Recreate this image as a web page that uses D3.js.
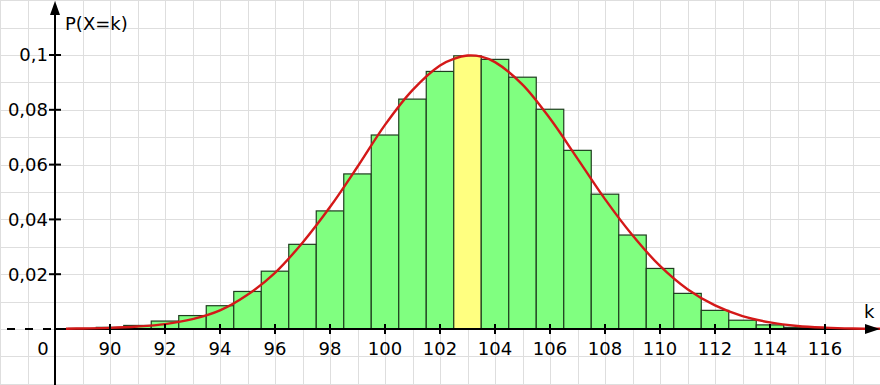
<!DOCTYPE html>
<html>
<head>
<meta charset="utf-8">
<script src="https://cdn.jsdelivr.net/npm/d3@7"></script>
<style>
  body { margin: 0; background: #fff; }
  svg { display: block; font-family: "DejaVu Sans", Verdana, sans-serif; }
</style>
</head>
<body>
<svg width="880" height="385"></svg>
<script>
// bar heights P(X=k)
var ks = [89, 90, 91, 92, 93, 94, 95, 96, 97, 98, 99, 100, 101, 102,
          103, 104, 105, 106, 107, 108, 109, 110, 111, 112, 113, 114, 115, 116];
var probs = [0.0002, 0.0006, 0.0013, 0.0029, 0.0049, 0.0085, 0.0137, 0.0211, 0.0309, 0.0431,
             0.0566, 0.0708, 0.0839, 0.0940, 0.0997, 0.0984, 0.0919, 0.0802, 0.0652, 0.0492,
             0.0343, 0.0221, 0.0130, 0.0068, 0.0032, 0.0015, 0.0006, 0.0002];
var highlightK = 103;

// red approximation curve
var curveK = [88.4, 89, 90, 91, 92, 93, 94, 95, 96, 97, 98, 99, 100, 101, 102, 102.5, 103, 103.5,
              104, 105, 106, 107, 108, 109, 110, 111, 112, 113, 114, 115, 116, 117, 118];
var curveP = [0.0001, 0.0002, 0.0004, 0.0009, 0.0018, 0.0036, 0.0068, 0.0125, 0.0205, 0.0315,
              0.0445, 0.0592, 0.0745, 0.0872, 0.0962, 0.0986, 0.0998, 0.0994, 0.0974, 0.0892,
              0.0768, 0.0622, 0.0474, 0.0342, 0.0230, 0.0145, 0.0086, 0.0047, 0.0024, 0.0011,
              0.0005, 0.0002, 0.0001];

var xTicks = [90, 92, 94, 96, 98, 100, 102, 104, 106, 108, 110, 112, 114, 116];
var yTicks = [0.02, 0.04, 0.06, 0.08, 0.1];
var yTickLabels = ["0,02", "0,04", "0,06", "0,08", "0,1"];

var svg = d3.select("svg"),
    width = +svg.attr("width"),
    height = +svg.attr("height");

var fontSize = 18;

var x = d3.scaleLinear().domain([86, 118]).range([0, 880]);
var y = d3.scaleLinear().domain([0, 0.1]).range([329, 55]);

var axisX = x(88);   // where the vertical axis sits
var axisY = y(0);

// grid
var grid = svg.append("g").attr("stroke", "#dedede").attr("stroke-width", 1);
grid.selectAll("line.v")
    .data(d3.range(86, 119))
    .enter().append("line")
    .attr("class", "v")
    .attr("x1", function(d) { return Math.round(x(d)) + 0.5; })
    .attr("x2", function(d) { return Math.round(x(d)) + 0.5; })
    .attr("y1", 0).attr("y2", height);
grid.selectAll("line.h")
    .data(d3.range(-2, 13))
    .enter().append("line")
    .attr("class", "h")
    .attr("y1", function(d) { return Math.round(y(d / 100)) + 0.5; })
    .attr("y2", function(d) { return Math.round(y(d / 100)) + 0.5; })
    .attr("x1", 0).attr("x2", width);

// bars
svg.append("g")
    .selectAll("rect")
    .data(ks)
    .enter().append("rect")
    .attr("x", function(d) { return x(d - 0.5); })
    .attr("width", function(d) { return x(d + 0.5) - x(d - 0.5); })
    .attr("y", function(d, i) { return y(probs[i]); })
    .attr("height", function(d, i) { return axisY - y(probs[i]); })
    .attr("fill", function(d) { return d === highlightK ? "#ffff80" : "#80ff80"; })
    .attr("stroke", "#1f3d1f")
    .attr("stroke-width", 1.2);

// x axis
svg.append("line")
    .attr("x1", axisX).attr("x2", 868)
    .attr("y1", axisY).attr("y2", axisY)
    .attr("stroke", "#000").attr("stroke-width", 2);
svg.append("line")
    .attr("x1", 7).attr("x2", axisX)
    .attr("y1", axisY).attr("y2", axisY)
    .attr("stroke", "#000").attr("stroke-width", 2)
    .attr("stroke-dasharray", "8,10");

// curve
var line = d3.line()
    .x(function(d) { return x(d); })
    .y(function(d, i) { return y(curveP[i]); })
    .curve(d3.curveCatmullRom);
svg.append("path")
    .attr("d", line(curveK))
    .attr("fill", "none")
    .attr("stroke", "#d41818")
    .attr("stroke-width", 2.4);

// x ticks + labels
svg.append("g")
    .selectAll("line")
    .data(xTicks)
    .enter().append("line")
    .attr("x1", function(d) { return x(d); })
    .attr("x2", function(d) { return x(d); })
    .attr("y1", axisY - 5).attr("y2", axisY + 5)
    .attr("stroke", "#000").attr("stroke-width", 2);
svg.append("g")
    .selectAll("text")
    .data(xTicks)
    .enter().append("text")
    .attr("x", function(d) { return x(d); })
    .attr("y", 355)
    .attr("text-anchor", "middle")
    .attr("font-size", fontSize)
    .text(function(d) { return d; });
svg.append("text")
    .attr("x", 43).attr("y", 355)
    .attr("text-anchor", "middle")
    .attr("font-size", fontSize)
    .text("0");

// y axis
svg.append("line")
    .attr("x1", axisX).attr("x2", axisX)
    .attr("y1", height).attr("y2", 12)
    .attr("stroke", "#000").attr("stroke-width", 2);
svg.append("g")
    .selectAll("line")
    .data(yTicks)
    .enter().append("line")
    .attr("x1", axisX - 6).attr("x2", axisX + 6)
    .attr("y1", function(d) { return y(d); })
    .attr("y2", function(d) { return y(d); })
    .attr("stroke", "#000").attr("stroke-width", 2);
svg.append("g")
    .selectAll("text")
    .data(yTicks)
    .enter().append("text")
    .attr("x", 48)
    .attr("y", function(d) { return y(d); })
    .attr("dy", "0.36em")
    .attr("text-anchor", "end")
    .attr("font-size", fontSize)
    .text(function(d, i) { return yTickLabels[i]; });

// arrow heads
svg.append("path")
    .attr("d", "M" + axisX + ",1L" + (axisX - 5) + ",15L" + (axisX + 5) + ",15Z")
    .attr("fill", "#000");
svg.append("path")
    .attr("d", "M880," + axisY + "L865," + (axisY - 5) + "L865," + (axisY + 5) + "Z")
    .attr("fill", "#000");

// axis titles
svg.append("text")
    .attr("x", 65).attr("y", 30)
    .attr("font-size", fontSize)
    .text("P(X=k)");
svg.append("text")
    .attr("x", 864).attr("y", 318)
    .attr("font-size", fontSize)
    .text("k");
</script>
</body>
</html>
